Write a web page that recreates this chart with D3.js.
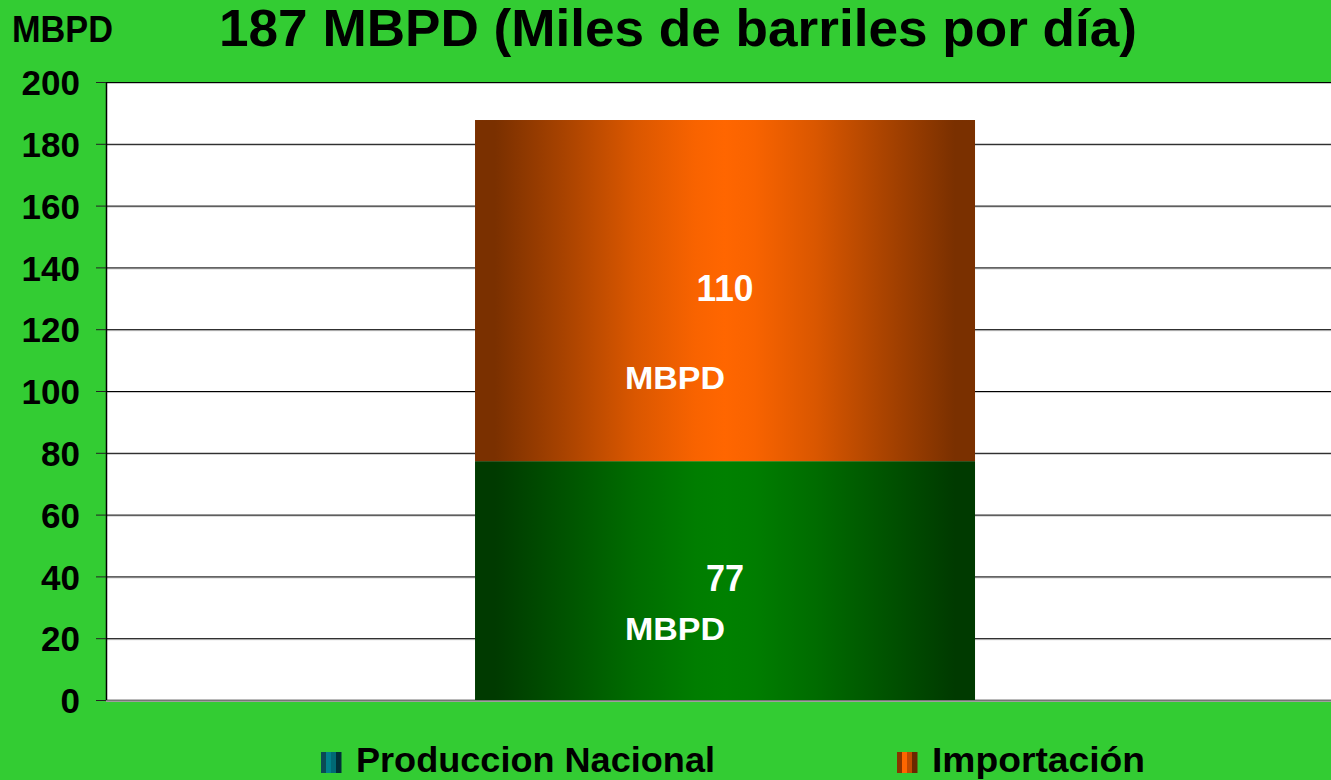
<!DOCTYPE html>
<html>
<head>
<meta charset="utf-8">
<script src="https://cdn.jsdelivr.net/npm/d3@7"></script>
<style>
  body { margin: 0; background: #33cc33; }
  svg { display: block; font-family: "Liberation Sans", Arial, sans-serif; }
</style>
</head>
<body>
<svg id="chart" width="1331" height="780"></svg>
<script>
// values
const series = ['Produccion Nacional', 'Importación'];
const values = [77.3, 110.4];
const yTicks = [0, 20, 40, 60, 80, 100, 120, 140, 160, 180, 200];
const titleText = '187 MBPD (Miles de barriles por día)';
const unit = 'MBPD';

const svg = d3.select('#chart');
const W = 1331, H = 780;
const plot = { left: 106, top: 82, right: 1331, bottom: 700 };

svg.append('rect').attr('width', W).attr('height', H).attr('fill', '#33cc33');

const defs = svg.append('defs');
function hGrad(id, edge, mid) {
  const g = defs.append('linearGradient').attr('id', id)
    .attr('x1', '0%').attr('x2', '100%').attr('y1', '0%').attr('y2', '0%');
  const mix = d3.interpolateRgb(edge, mid);
  [[0, 0], [4, 0], [18, 0.35], [32, 0.72], [44, 0.95], [50, 1],
   [56, 0.95], [68, 0.72], [82, 0.35], [96, 0], [100, 0]].forEach(([o, t]) => {
    g.append('stop').attr('offset', o + '%').attr('stop-color', mix(t));
  });
}
hGrad('gGreen', '#003a00', '#008000');
hGrad('gOrange', '#7a3000', '#ff6600');

const y = d3.scaleLinear().domain([0, 200]).range([plot.bottom, plot.top]);
const x = d3.scaleBand().domain(['total']).range([plot.left, plot.right])
  .paddingInner(0).paddingOuter(0.725).align(0.509);

// plot background
svg.append('rect')
  .attr('x', plot.left).attr('y', plot.top)
  .attr('width', plot.right - plot.left).attr('height', plot.bottom - plot.top)
  .attr('fill', '#ffffff');

// gridlines with grey shadow
const grid = svg.append('g');
yTicks.forEach(t => {
  grid.append('line')
    .attr('x1', plot.left).attr('x2', plot.right)
    .attr('y1', y(t) + 1.5).attr('y2', y(t) + 1.5)
    .attr('stroke', '#c8c8c8').attr('stroke-width', 1);
  grid.append('line')
    .attr('x1', plot.left).attr('x2', plot.right)
    .attr('y1', y(t) + 0.5).attr('y2', y(t) + 0.5)
    .attr('stroke', t === 0 ? '#777' : '#000').attr('stroke-width', t === 0 ? 2 : 1);
});

// stacked bar
const stackData = [{ key: 'total', p: values[0], i: values[1] }];
const stacked = d3.stack().keys(['p', 'i'])(stackData);
const fills = ['url(#gGreen)', 'url(#gOrange)'];
svg.append('g').selectAll('rect')
  .data(stacked)
  .join('rect')
  .attr('x', x('total'))
  .attr('width', x.bandwidth())
  .attr('y', d => y(d[0][1]))
  .attr('height', d => y(d[0][0]) - y(d[0][1]))
  .attr('fill', (d, i) => fills[i]);

// bar labels
const fmt = d3.format('.0f');
const xc = x('total') + x.bandwidth() / 2;
const labelOffsets = [
  { num: 10, unit: 59 },
  { num: 10, unit: 98 }
];
stacked.forEach((s, i) => {
  const seg = s[0];
  const yMid = y((seg[0] + seg[1]) / 2);
  svg.append('text')
    .attr('x', xc).attr('y', yMid + labelOffsets[i].num).attr('text-anchor', 'middle')
    .attr('font-size', 36).attr('font-weight', 'bold').attr('fill', '#fff')
    .attr('textLength', i === 0 ? 38 : 57).attr('lengthAdjust', 'spacingAndGlyphs')
    .text(fmt(seg[1] - seg[0]));
  svg.append('text')
    .attr('x', xc - 50).attr('y', yMid + labelOffsets[i].unit).attr('text-anchor', 'middle')
    .attr('font-size', 32).attr('font-weight', 'bold').attr('fill', '#fff')
    .attr('textLength', 100).attr('lengthAdjust', 'spacingAndGlyphs')
    .text(unit);
});

// y axis
const axis = svg.append('g')
  .attr('transform', `translate(${plot.left},0)`)
  .call(d3.axisLeft(y).tickValues(yTicks).tickSize(10).tickPadding(12));
axis.select('.domain').attr('stroke', '#000').attr('stroke-width', 1.5).attr('d', `M0.5,${plot.top}V${plot.bottom}`);
axis.selectAll('.tick line').attr('stroke', '#222');
axis.selectAll('.tick text')
  .attr('font-size', 35).attr('font-weight', 'bold').attr('fill', '#000')
  .attr('font-family', '"Liberation Sans", Arial, sans-serif')
  .attr('x', -26).attr('dy', '0.36em');

// title & unit label
svg.append('text')
  .attr('x', 678).attr('y', 46).attr('text-anchor', 'middle')
  .attr('font-size', 52).attr('font-weight', 'bold').attr('fill', '#000')
  .attr('textLength', 918).attr('lengthAdjust', 'spacingAndGlyphs')
  .text(titleText);
svg.append('text')
  .attr('x', 12).attr('y', 42)
  .attr('font-size', 36).attr('font-weight', 'bold').attr('fill', '#000')
  .attr('textLength', 101).attr('lengthAdjust', 'spacingAndGlyphs')
  .text(unit);

// legend
const legendSpec = [
  { swatchX: 321, textX: 356, len: 359, stripes: ['#0a4a55', '#00808c', '#006a75', '#003038'] },
  { swatchX: 897, textX: 932, len: 213, stripes: ['#8a3500', '#ff6600', '#c04a00', '#6a2800'] }
];
const legend = svg.append('g');
series.forEach((name, i) => {
  const s = legendSpec[i];
  const sw = legend.append('g').attr('transform', `translate(${s.swatchX},752)`);
  s.stripes.forEach((c, j) => {
    sw.append('rect').attr('x', j * 5).attr('y', 0).attr('width', 5.5).attr('height', 21).attr('fill', c);
  });
  legend.append('text')
    .attr('x', s.textX).attr('y', 772)
    .attr('font-size', 35).attr('font-weight', 'bold').attr('fill', '#000')
    .attr('textLength', s.len).attr('lengthAdjust', 'spacingAndGlyphs')
    .text(name);
});
</script>
</body>
</html>
